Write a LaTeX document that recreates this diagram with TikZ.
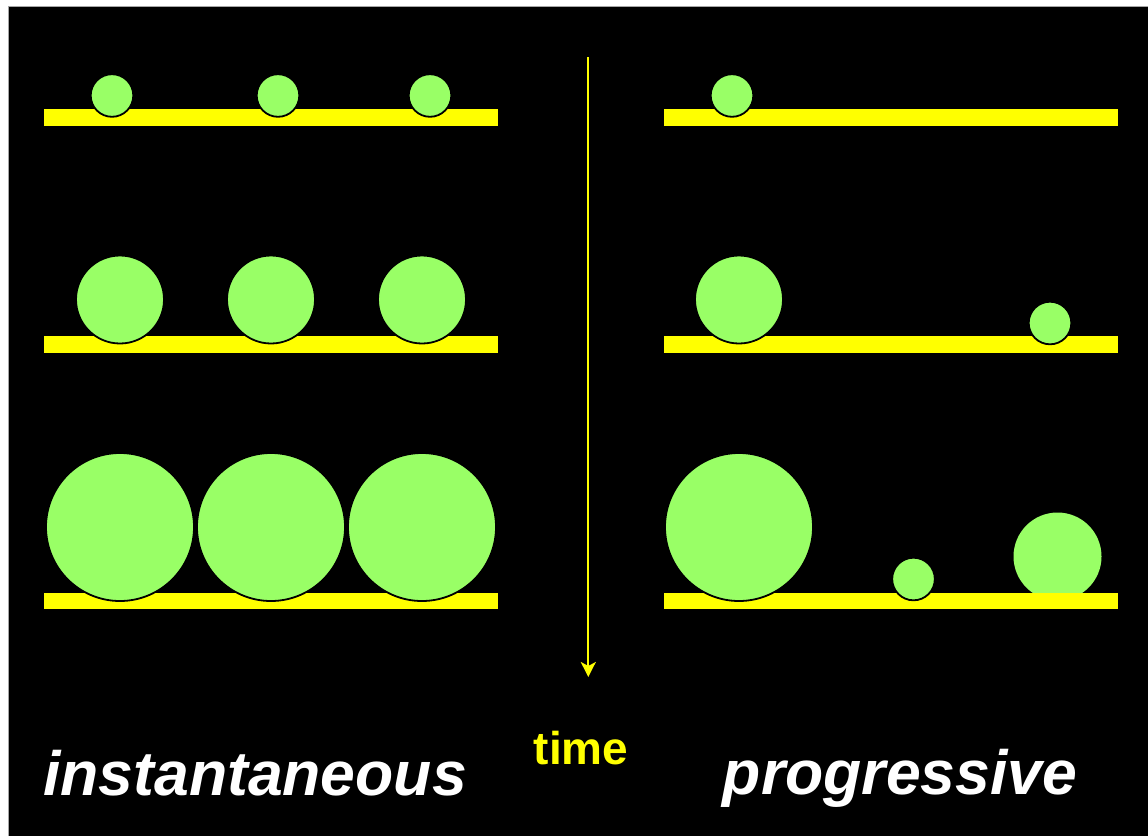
\documentclass[tikz,border=0pt]{standalone}
\usepackage{fontspec}
\setmainfont{Liberation Sans}
\usetikzlibrary{arrows.meta}
\definecolor{ballgreen}{RGB}{153,255,102}
\definecolor{baryellow}{RGB}{255,255,0}
\tikzset{
  ball/.style={circle,fill=ballgreen,draw=black,line width=1.8pt,inner sep=0pt,outer sep=0pt,minimum size=#1},
  sball/.style={ball=42.6pt},
  mball/.style={ball=88pt},
  lball/.style={ball=148pt},
  shelf/.style={rectangle,fill=baryellow,draw=none,inner sep=0pt,outer sep=0pt,minimum width=454pt,minimum height=16.5pt},
  biglabel/.style={text=white,font=\fontsize{62.5}{70}\selectfont\bfseries\itshape,inner sep=0pt,anchor=base},
  timelabel/.style={text=baryellow,font=\fontsize{46}{52}\selectfont\bfseries,inner sep=0pt,anchor=base},
  timearrow/.style={draw=baryellow,line width=2.3pt,-{Stealth[length=15pt,width=15pt,inset=4pt]}}
}
\begin{document}
\begin{tikzpicture}[x=1pt,y=-1pt]
\useasboundingbox (0,0) rectangle (1148,836);
\fill[white] (0,0) rectangle (1148,836);
\fill[black] (8,6) rectangle (1148,836);
\draw[gray!70,line width=1pt] (8,836) -- (8,6) -- (1148,6);

% hidden ball behind the bottom-right shelf
\node[ball=88pt,draw=none] (p3c) at (1057.5,556.5) {};

% shelves
\node[shelf] (L1) at (271,117.25) {};
\node[shelf] (L2) at (271,344.25) {};
\node[shelf] (L3) at (271,601) {};
\node[shelf] (R1) at (891,117.25) {};
\node[shelf] (R2) at (891,344.25) {};
\node[shelf] (R3) at (891,601) {};

% instantaneous: row 1
\node[sball] (i1a) at (112,95.5) {};
\node[sball] (i1b) at (278,95.5) {};
\node[sball] (i1c) at (430,95.5) {};
% row 2
\node[mball] (i2a) at (120,299.5) {};
\node[mball] (i2b) at (271,299.5) {};
\node[mball] (i2c) at (422,299.5) {};
% row 3
\node[lball] (i3a) at (120,527) {};
\node[lball] (i3b) at (271,527) {};
\node[lball] (i3c) at (422,527) {};

% progressive
\node[sball] (p1a) at (732,95.5) {};
\node[mball] (p2a) at (739,299.5) {};
\node[sball] (p2b) at (1050,323) {};
\node[lball] (p3a) at (739,527) {};
\node[sball] (p3b) at (913.5,579) {};

% time arrow
\coordinate (tstart) at (588.3,57);
\coordinate (tend) at (588.3,677);
\draw[timearrow] (tstart) -- (tend);

% labels
\node[biglabel] (inst) at (255,795) {instantaneous};
\node[biglabel] (prog) at (900,794) {progressive};
\node[timelabel] (time) at (581,764) {time};
\end{tikzpicture}
\end{document}
